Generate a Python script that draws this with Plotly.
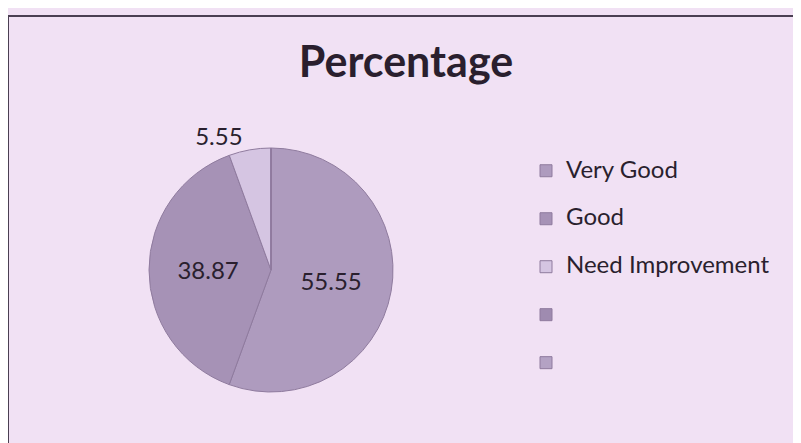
import plotly.graph_objects as go

categories = ["Very Good", "Good", "Need Improvement", " ", "  "]
percentages = [55.55, 38.87, 5.55, 0, 0]
slice_colors = ["#ae9bbe", "#a692b6", "#d5c5e2", "#9f8bb0", "#b4a2c4"]
text_positions = ["inside", "inside", "outside", "inside", "inside"]

bg = "#f1e1f4"
ink = "#2a1f2e"

# the page puts the figure 8px in from the top left corner
def px(x):
    return (x - 8) / 801

def py(y):
    return 1 - (y - 8) / 443

legend_labels = ["<span style='font-size:24px'>%s</span><br> " % c for c in categories]

fig = go.Figure(go.Pie(
    labels=legend_labels,
    values=percentages,
    sort=False,
    direction="clockwise",
    rotation=0,
    marker=dict(colors=slice_colors, line=dict(color="#8f7b9e", width=1)),
    texttemplate=["%{value}" if v > 0 else "" for v in percentages],
    textposition=text_positions,
    insidetextorientation="horizontal",
    textfont=dict(family="Lato", size=24, color=ink),
    domain=dict(x=[px(149), px(393)], y=[py(393), py(147)]),
    hoverinfo="value",
))

fig.update_layout(
    width=801, height=443,
    margin=dict(l=0, r=0, t=0, b=0),
    paper_bgcolor=bg,
    plot_bgcolor=bg,
    title=dict(text="<b>Percentage</b>", x=px(406), xanchor="center", y=py(62), yanchor="middle",
               font=dict(family="Lato", size=43, color=ink)),
    legend=dict(x=px(526), y=py(153), xanchor="left", yanchor="top", valign="top",
                font=dict(family="Lato", size=17.3, color=ink),
                bgcolor="rgba(0,0,0,0)"),
    shapes=[dict(type="rect", xref="paper", yref="paper", x0=px(8), x1=1.2, y0=-0.2, y1=py(16),
                 line=dict(color="#4a3f52", width=2))],
)

fig.write_html("out.html")
